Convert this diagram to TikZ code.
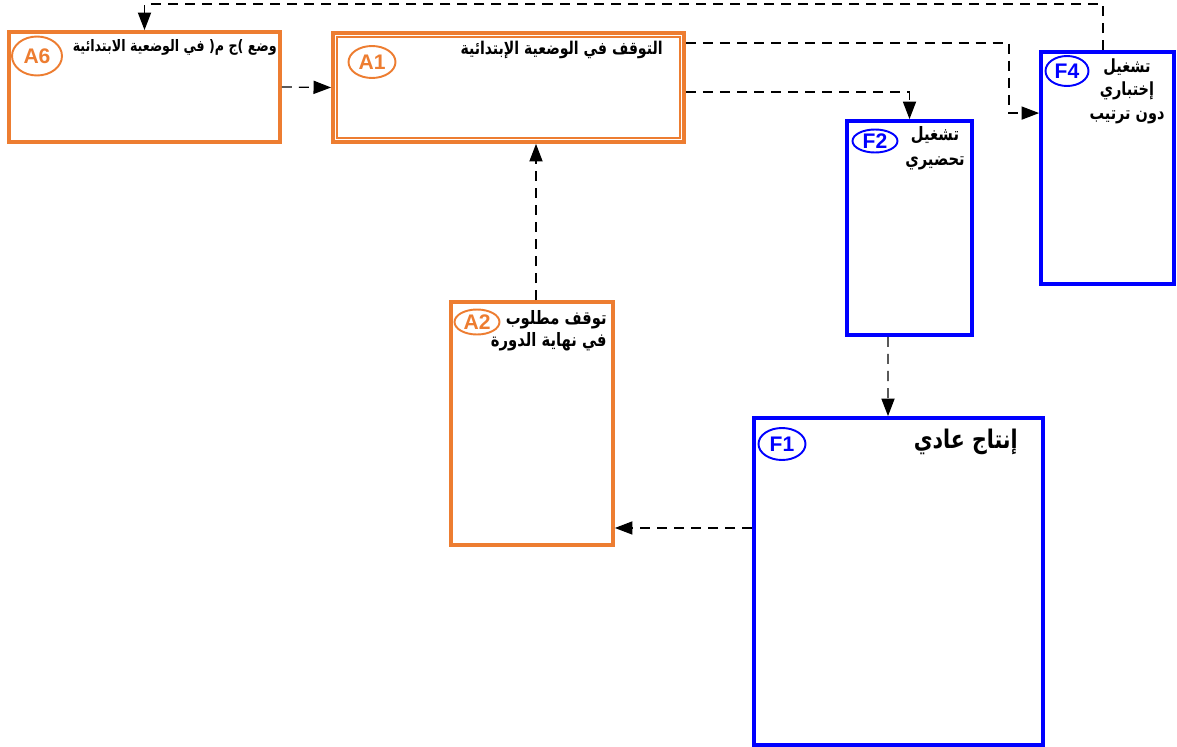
\documentclass[tikz,border=0pt]{standalone}
\usepackage{fontspec}
\setmainfont{Liberation Sans}
\newfontfamily\arabicfont[Script=Arabic, FakeStretch=0.8]{DejaVu Sans}
\TeXXeTstate=1
\usetikzlibrary{arrows.meta,shapes.geometric}

\definecolor{grafOrange}{HTML}{ED7D31}
\definecolor{grafBlue}{HTML}{0000FF}

\newcommand{\artxt}[1]{\beginR #1\endR}
\newcommand{\arsize}[2]{\arabicfont\bfseries\fontsize{#1}{#2}\selectfont}

\tikzset{
  stepA/.style={draw=grafOrange, line width=2.2pt, minimum width=#1},
  stepF/.style={draw=grafBlue, line width=2.2pt, minimum width=#1},
  tagA/.style={ellipse, draw=grafOrange, line width=1.1pt, text=grafOrange,
    font=\bfseries\fontsize{12}{13}\selectfont, minimum width=0.94cm, minimum height=0.64cm, inner sep=0pt},
  tagF/.style={tagA, draw=grafBlue, text=grafBlue},
  lbl/.style={align=right, inner sep=0pt},
  flow/.style={line width=0.7pt, dash pattern=on 5.7pt off 4pt, -{Triangle[length=10pt,width=7.5pt]}}
}

\begin{document}
\begin{tikzpicture}[x=0.02cm, y=-0.02cm]
  \useasboundingbox (0,0) rectangle (1177,747);

  % A steps (orange)
  \node[stepA=5.42cm, minimum height=2.2cm] (A6) at (144.5,87) {};
  \node[stepA=7.02cm, minimum height=2.18cm] (A1) at (508.5,87.5) {};
  \draw[grafOrange, line width=0.9pt] ([shift={(0.12cm,-0.12cm)}]A1.north west) rectangle ([shift={(-0.12cm,0.12cm)}]A1.south east);
  \node[stepA=3.24cm, minimum height=4.86cm] (A2) at (532,423.5) {};

  % F steps (blue)
  \node[stepF=2.5cm, minimum height=4.28cm] (F2) at (909.5,228) {};
  \node[stepF=2.66cm, minimum height=4.64cm] (F4) at (1107.5,168) {};
  \node[stepF=5.78cm, minimum height=6.54cm] (F1) at (898.5,581.5) {};

  % tags
  \node[tagA, minimum width=1cm, minimum height=0.78cm] (tA6) at (37,56) {A6};
  \node[tagA] (tA1) at (372,62) {A1};
  \node[tagA, minimum width=0.9cm, minimum height=0.5cm] (tA2) at (477,322) {A2};
  \node[tagF, minimum width=0.9cm, minimum height=0.46cm] (tF2) at (875,141) {F2};
  \node[tagF, minimum width=0.86cm, minimum height=0.6cm] (tF4) at (1067,71) {F4};
  \node[tagF] (tF1) at (782,444) {F1};

  % texts
  \node[lbl, anchor=north east, font=\arsize{9}{11}] (xA6) at (277,39) {\artxt{وضع )ج م( في الوضعية الابتدائية}};
  \node[lbl, anchor=north east, font=\arsize{10}{12}] (xA1) at (663,41) {\artxt{التوقف في الوضعية الإبتدائية}};
  \node[lbl, anchor=north east, font=\arsize{10.5}{12.5}] (xA2) at (607,310) {\artxt{توقف مطلوب}\\\artxt{في نهاية الدورة}};
  \node[lbl, align=center, anchor=north, font=\arsize{10.5}{14.5}] (xF2) at (935,126) {\artxt{تشغيل}\\\artxt{تحضيري}};
  \node[lbl, align=center, anchor=north, font=\arsize{10.3}{13.5}] (xF4) at (1127,58) {\artxt{تشغيل}\\\artxt{إختباري}\\\artxt{دون ترتيب}};
  \node[lbl, anchor=north east, font=\arsize{14.6}{16}] (xF1) at (1018,429) {\artxt{إنتاج عادي}};

  % connectors
  \draw[flow] (A6.east) -- (A1.west);
  \draw[flow] ([xshift=0.08cm]A2.north) -- ([xshift=0.08cm]A2.north |- A1.south);
  \draw[flow] ([yshift=-0.09cm]A1.east) -| (F2.north);
  \draw[flow] ([yshift=0.89cm]A1.east) -| ([xshift=-0.6cm,yshift=-1.26cm]F4.north west) -- ([yshift=-1.26cm]F4.north west);
  \draw[flow] ([xshift=-0.09cm]F4.north) -- ++(0,0.92cm) -| (A6.north);
  \draw[flow] ([xshift=-0.43cm]F2.south) -- ([xshift=-0.21cm]F1.north);
  \coordinate (a2in) at ([yshift=-2.09cm]A2.east);
  \draw[flow] (a2in -| F1.west) -- (a2in);

\end{tikzpicture}
\end{document}
